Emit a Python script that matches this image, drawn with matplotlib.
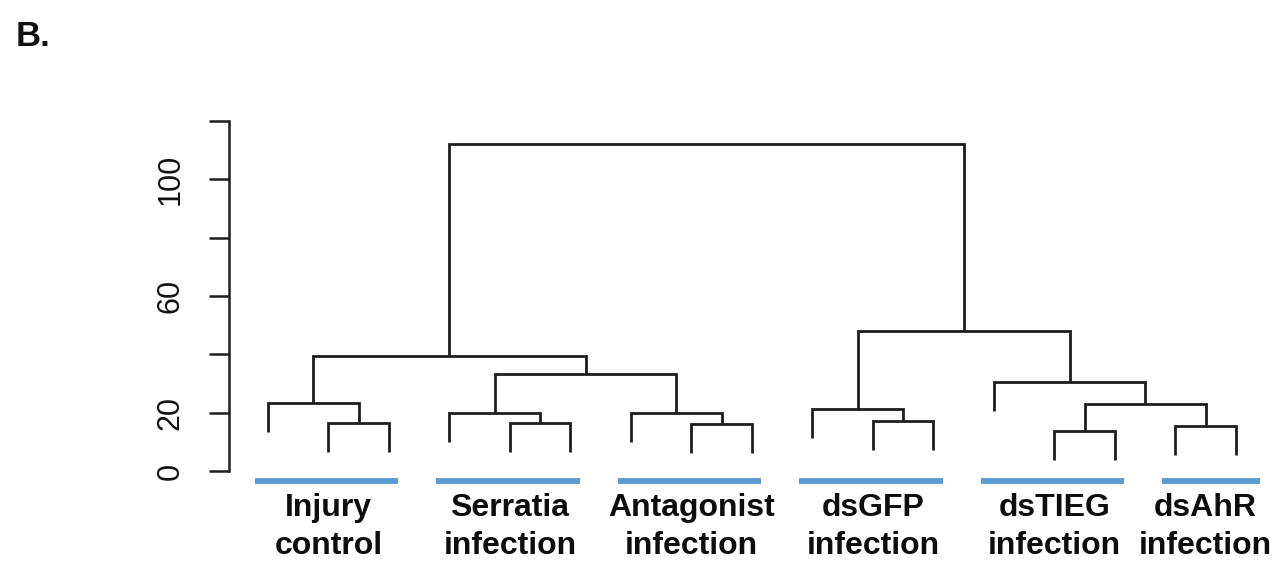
import matplotlib
matplotlib.use("Agg")
import matplotlib.pyplot as plt

# Sample groups, in leaf order, with the number of replicates in each
group_labels = ["Injury\ncontrol", "Serratia\ninfection", "Antagonist\ninfection",
                "dsGFP\ninfection", "dsTIEG\ninfection", "dsAhR\ninfection"]
group_sizes = [3, 3, 3, 3, 3, 2]

# Agglomeration steps: (child a, child b, merge height).
# Ids 0..16 are the leaves, id 17 onward are the clusters formed in order.
merge_a = [1, 0, 4, 3, 7, 6, 20, 18, 10, 9, 13, 15, 27, 12, 26, 24]
merge_b = [2, 17, 5, 19, 8, 21, 22, 23, 11, 25, 14, 16, 28, 29, 30, 31]
merge_h = [16.3, 23.4, 16.3, 20.0, 16.1, 20.0, 33.2, 39.5,
           17.2, 21.1, 13.8, 15.4, 22.8, 30.6, 48.1, 112.0]

y_ticks = [0, 20, 40, 60, 80, 100, 120]
y_tick_labels = ["0", "20", "", "60", "", "100", ""]

HANG = 9.9                      # leaf drop below its parent merge
LINE = "#1e1e1e"
BAR = "#5b9bd5"

n_leaves = sum(group_sizes)

fig = plt.figure(figsize=(12.79, 5.62), dpi=100)
W, H = 1279, 562
ax = fig.add_axes([229 / W, (H - 480) / H, (1270 - 229) / W, 380 / H])
ax.set_xlim(0.3554, 17.562)
ax.set_ylim(-3.086, 127.2)

# positions / heights of every node
node_x = {i: float(i + 1) for i in range(n_leaves)}
node_h = {}
for k, (a, b, h) in enumerate(zip(merge_a, merge_b, merge_h)):
    nid = n_leaves + k
    node_x[nid] = (node_x[a] + node_x[b]) / 2
    node_h[nid] = h

for a, b, h in zip(merge_a, merge_b, merge_h):
    ya = node_h.get(a, h - HANG)
    yb = node_h.get(b, h - HANG)
    xa, xb = node_x[a], node_x[b]
    ax.plot([xa, xa, xb, xb], [ya, h, h, yb], color=LINE, lw=2.0,
            solid_joinstyle="miter", solid_capstyle="butt", clip_on=False)

# group bars and labels under the leaves
start = 1
for label, size in zip(group_labels, group_sizes):
    first, last = start, start + size - 1
    right_pad = 0.15 if size > 2 else 0.4
    ax.plot([first - 0.22, last + right_pad], [-3.6, -3.6], color=BAR, lw=4.2,
            solid_capstyle="butt", clip_on=False)
    ax.text((first + last) / 2, -7.6, label, ha="center", va="top",
            fontsize=23, fontweight="bold", family="Liberation Sans",
            linespacing=1.32, color="#0d0d0d", clip_on=False)
    start += size

# y axis only
for side in ("top", "right", "bottom"):
    ax.spines[side].set_visible(False)
ax.spines["left"].set_bounds(0, 120)
ax.spines["left"].set_linewidth(1.8)
ax.spines["left"].set_color(LINE)
ax.set_xticks([])
ax.set_yticks(y_ticks)
ax.set_yticklabels(y_tick_labels, rotation=90, va="center",
                   family="Liberation Sans", fontsize=22, color="#111111")
ax.tick_params(axis="y", length=14.4, width=1.8, color=LINE, pad=17)

fig.text(16 / W, (H - 46) / H, "B.", fontsize=25, fontweight="bold",
         family="Liberation Sans", ha="left", va="baseline", color="#111111")

fig.savefig("out.png", dpi=100)
